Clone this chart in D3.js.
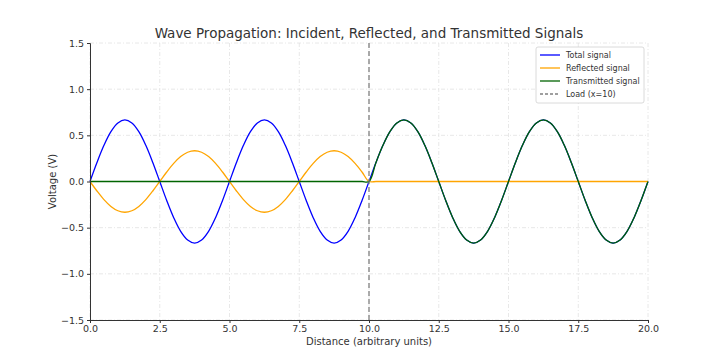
<!DOCTYPE html>
<html><head><meta charset="utf-8">
<script src="https://cdn.jsdelivr.net/npm/d3@7"></script>
<style>body{margin:0;background:#fff}svg{display:block}</style>
</head><body>
<svg id="c" width="720" height="360"></svg>
<script>
// Distance samples every 0.25 units, 0..20
const distance = d3.range(0, 81).map(i => i * 0.25);
// Values (peak ~0.667, period 5)
const totalSignal = [
  0, 0.206, 0.392, 0.540, 0.634, 0.667, 0.634, 0.540, 0.392, 0.206,
  0, -0.206, -0.392, -0.540, -0.634, -0.667, -0.634, -0.540, -0.392, -0.206,
  0, 0.206, 0.392, 0.540, 0.634, 0.667, 0.634, 0.540, 0.392, 0.206,
  0, -0.206, -0.392, -0.540, -0.634, -0.667, -0.634, -0.540, -0.392, -0.206,
  0, 0.206, 0.392, 0.540, 0.634, 0.667, 0.634, 0.540, 0.392, 0.206,
  0, -0.206, -0.392, -0.540, -0.634, -0.667, -0.634, -0.540, -0.392, -0.206,
  0, 0.206, 0.392, 0.540, 0.634, 0.667, 0.634, 0.540, 0.392, 0.206,
  0, -0.206, -0.392, -0.540, -0.634, -0.667, -0.634, -0.540, -0.392, -0.206,
  0];
const reflectedSignal = [
  0, -0.103, -0.196, -0.270, -0.317, -0.333, -0.317, -0.270, -0.196, -0.103,
  0, 0.103, 0.196, 0.270, 0.317, 0.333, 0.317, 0.270, 0.196, 0.103,
  0, -0.103, -0.196, -0.270, -0.317, -0.333, -0.317, -0.270, -0.196, -0.103,
  0, 0.103, 0.196, 0.270, 0.317, 0.333, 0.317, 0.270, 0.196, 0.103,
  0, 0, 0, 0, 0, 0, 0, 0, 0, 0,
  0, 0, 0, 0, 0, 0, 0, 0, 0, 0,
  0, 0, 0, 0, 0, 0, 0, 0, 0, 0,
  0, 0, 0, 0, 0, 0, 0, 0, 0, 0,
  0];
const transmittedSignal = [
  0, 0, 0, 0, 0, 0, 0, 0, 0, 0,
  0, 0, 0, 0, 0, 0, 0, 0, 0, 0,
  0, 0, 0, 0, 0, 0, 0, 0, 0, 0,
  0, 0, 0, 0, 0, 0, 0, 0, 0, 0,
  0, 0.206, 0.392, 0.540, 0.634, 0.667, 0.634, 0.540, 0.392, 0.206,
  0, -0.206, -0.392, -0.540, -0.634, -0.667, -0.634, -0.540, -0.392, -0.206,
  0, 0.206, 0.392, 0.540, 0.634, 0.667, 0.634, 0.540, 0.392, 0.206,
  0, -0.206, -0.392, -0.540, -0.634, -0.667, -0.634, -0.540, -0.392, -0.206,
  0];
const loadX = 10;
const xTicks = [0, 2.5, 5, 7.5, 10, 12.5, 15, 17.5, 20];
const yTicks = [-1.5, -1.0, -0.5, 0, 0.5, 1.0, 1.5];
const seriesNames = ["Total signal", "Reflected signal", "Transmitted signal"];
const seriesColors = ["#0000ff", "#ffa500", "#006400"];

const svg = d3.select("#c");
const L = 90, R = 648, T = 43, B = 320;
const x = d3.scaleLinear().domain([0, 20]).range([L, R]);
const y = d3.scaleLinear().domain([-1.5, 1.5]).range([B, T]);
const font = "DejaVu Sans, sans-serif";

// grid
const g = svg.append("g");
g.selectAll(".vx").data(xTicks).join("line")
  .attr("x1", d => x(d)).attr("x2", d => x(d)).attr("y1", T).attr("y2", B)
  .attr("stroke", "#e2e2e2").attr("stroke-width", 0.8).attr("stroke-dasharray", "4,2,1,2");
g.selectAll(".hy").data(yTicks).join("line")
  .attr("x1", L).attr("x2", R).attr("y1", d => y(d)).attr("y2", d => y(d))
  .attr("stroke", "#e2e2e2").attr("stroke-width", 0.8).attr("stroke-dasharray", "4,2,1,2");

// lines
const allSeries = [totalSignal, reflectedSignal, transmittedSignal];
const line = d3.line().x((d, i) => x(distance[i])).y(d => y(d)).curve(d3.curveCatmullRom);
svg.append("g").selectAll("path").data(allSeries).join("path")
  .attr("d", d => line(d)).attr("fill", "none")
  .attr("stroke", (d, i) => seriesColors[i]).attr("stroke-width", 1.3);

// load line
svg.append("line").attr("x1", x(loadX)).attr("x2", x(loadX)).attr("y1", T).attr("y2", B)
  .attr("stroke", "#808080").attr("stroke-width", 1.3).attr("stroke-dasharray", "5,3");

// axes
const xa = svg.append("g").attr("transform", `translate(0,${B})`)
  .call(d3.axisBottom(x).tickValues(xTicks).tickFormat(d3.format(".1f")).tickSize(3).tickPadding(2));
const ya = svg.append("g").attr("transform", `translate(${L},0)`)
  .call(d3.axisLeft(y).tickValues(yTicks).tickFormat(d => d < 0 ? "\u2212" + d3.format(".1f")(-d) : d3.format(".1f")(d)).tickSize(3).tickPadding(3));
[xa, ya].forEach(a => {
  a.selectAll("path").attr("stroke", "#333").attr("stroke-width", 1);
  a.selectAll("line").attr("stroke", "#333");
  a.selectAll("text").attr("fill", "#333").style("font-family", font).style("font-size", "9.5px");
});

// labels
svg.append("text").attr("x", x(10)).attr("y", 38).attr("text-anchor", "middle")
  .attr("fill", "#333").style("font-family", font).style("font-size", "13.5px")
  .text("Wave Propagation: Incident, Reflected, and Transmitted Signals");
svg.append("text").attr("x", x(10)).attr("y", 345).attr("text-anchor", "middle")
  .attr("fill", "#333").style("font-family", font).style("font-size", "10px")
  .text("Distance (arbitrary units)");
svg.append("text").attr("transform", `translate(56,${y(0)}) rotate(-90)`).attr("text-anchor", "middle")
  .attr("fill", "#333").style("font-family", font).style("font-size", "10px")
  .text("Voltage (V)");

// legend
const lg = svg.append("g").attr("transform", "translate(536,47)");
lg.append("rect").attr("width", 108).attr("height", 56).attr("rx", 2)
  .attr("fill", "#fff").attr("fill-opacity", 0.85).attr("stroke", "#d0d0d0").attr("stroke-width", 0.8);
const items = seriesNames.map((n, i) => ({name: n, color: seriesColors[i], dash: null}))
  .concat([{name: "Load (x=10)", color: "#808080", dash: "3,2"}]);
items.forEach((it, i) => {
  const yy = 8 + i * 13;
  lg.append("line").attr("x1", 4).attr("x2", 24).attr("y1", yy).attr("y2", yy)
    .attr("stroke", it.color).attr("stroke-width", 1.3).attr("stroke-dasharray", it.dash);
  lg.append("text").attr("x", 30).attr("y", yy + 3).attr("fill", "#333")
    .style("font-family", font).style("font-size", "8px").text(it.name);
});
</script>
</body></html>
